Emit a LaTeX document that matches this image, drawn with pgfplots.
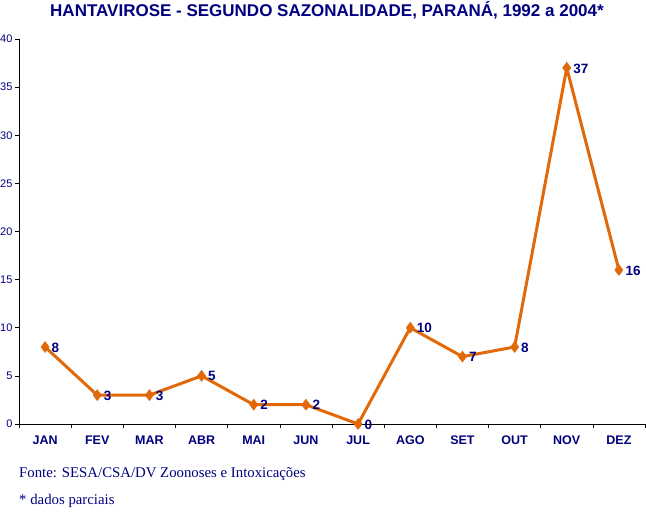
\documentclass[border=0pt]{standalone}
\usepackage{fontspec}
\setmainfont{Liberation Sans}
\newfontfamily\timesfont{Liberation Serif}
\usepackage{pgfplots}
\pgfplotsset{compat=1.18}
\definecolor{navy}{HTML}{000080}
\definecolor{linha}{HTML}{E2690A}
\begin{document}
\begin{tikzpicture}
\path[use as bounding box] (-19pt,-90pt) rectangle (627pt,424pt);
\begin{axis}[
  scale only axis,
  width=626pt, height=385pt,
  xmin=-0.5, xmax=11.5,
  ymin=0, ymax=40,
  axis x line=bottom, axis y line=left,
  axis line style={-, black, line width=0.8pt},
  xtick={-0.5,0.5,...,11.5},
  x tick label as interval,
  xticklabels={JAN,FEV,MAR,ABR,MAI,JUN,JUL,AGO,SET,OUT,NOV,DEZ},
  xticklabel style={font=\fontsize{12.5}{14}\selectfont\bfseries, text=navy, yshift=-4pt},
  ytick={0,5,...,40},
  yticklabel style={font=\fontsize{11}{12}\selectfont, text=navy, xshift=1pt},
  /pgf/number format/assume math mode=true,
  tick align=outside,
  major tick length=4pt,
  tick style={black, line width=0.6pt},
  clip=false,
]
\addplot[color=linha, line width=3pt, mark=diamond*, mark size=5.5pt,
  mark options={fill=linha, draw=linha, line width=0.5pt},
  nodes near coords,
  every node near coord/.append style={anchor=west, font=\fontsize{13.5}{15}\selectfont\bfseries, text=navy, xshift=3pt, yshift=-0.5pt}]
  coordinates {
  (0,8) (1,3) (2,3) (3,5) (4,2) (5,2) (6,0) (7,10) (8,7) (9,8) (10,37) (11,16)
};
\end{axis}
\node[anchor=base, font=\fontsize{17}{19}\selectfont\bfseries, text=navy] at (308pt,407pt) {HANTAVIROSE - SEGUNDO SAZONALIDADE, PARANÁ, 1992 a 2004*};
\node[anchor=base west, inner sep=0pt, font=\timesfont\fontsize{14.8}{16}\selectfont, text=navy] at (0pt,-54pt) {Fonte: SESA/CSA/DV Zoonoses e Intoxicações};
\node[anchor=base west, inner sep=0pt, font=\timesfont\fontsize{14.8}{16}\selectfont, text=navy] at (0pt,-81pt) {* dados parciais};
\end{tikzpicture}
\end{document}
